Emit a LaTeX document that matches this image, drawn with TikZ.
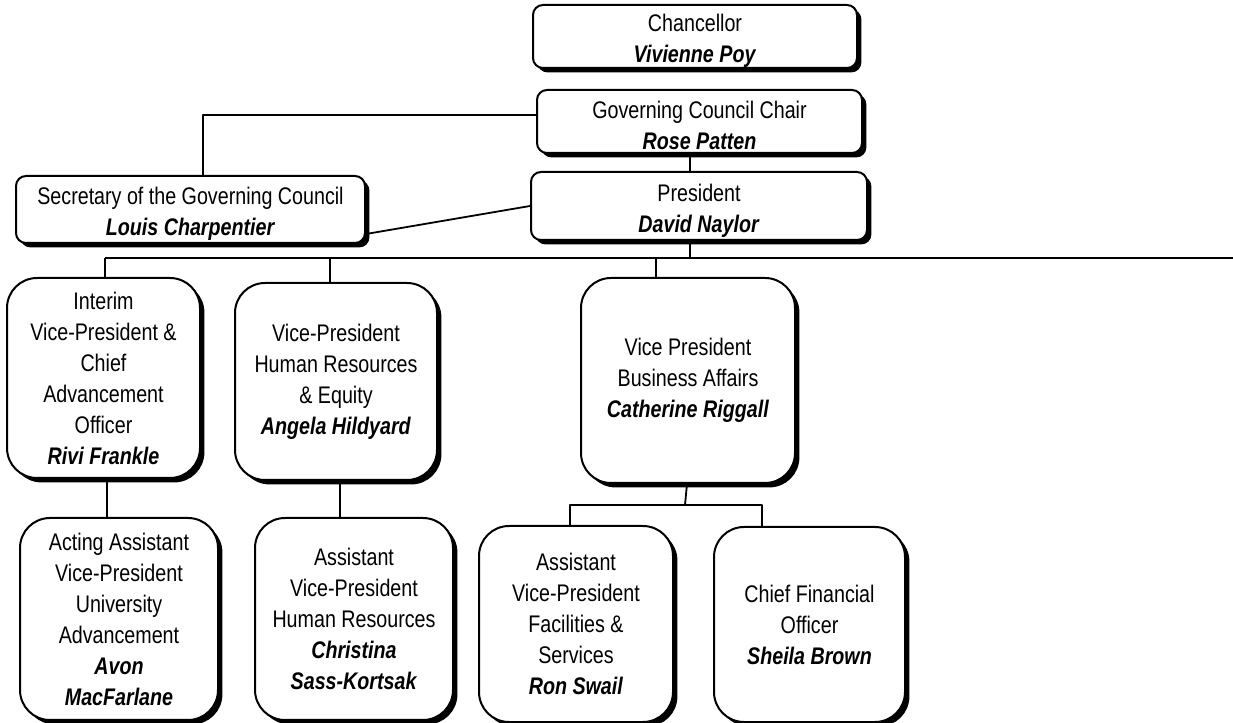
\documentclass[tikz,border=0pt]{standalone}
\usepackage{fontspec}
\setmainfont[FakeStretch=0.82]{Liberation Sans}
\usetikzlibrary{shadows}

\newcommand{\holder}[1]{\textbf{\textit{#1}}}

\begin{document}
\begin{tikzpicture}[join=bevel, scale=0.5]
 \tikzstyle{card}=[draw=black,line width=1bp,fill=white,align=center,inner sep=1bp,
   font=\fontsize{12bp}{15.5bp}\selectfont,
   drop shadow={shadow xshift=2.2bp,shadow yshift=-2.2bp,opacity=1,fill=black}]
 \tikzstyle{post}=[card,rounded corners=5bp,text height=28.5bp,inner ysep=0bp]
 \tikzstyle{office}=[card,rounded corners=15bp]
 \tikzstyle{link}=[line width=0.9bp]
 \useasboundingbox (0bp,0bp) rectangle (1233bp,723bp);

 % governance row
 \node (Chan) at (695bp,686.5bp) [post,minimum width=162bp,minimum height=31.5bp] {Chancellor\\\holder{Vivienne Poy}};
 \node (Chair) at (699.5bp,601.5bp) [post,minimum width=162.5bp,minimum height=31.5bp] {Governing Council Chair\\\holder{Rose Patten}};
 \node (Pres) at (699bp,517bp) [post,minimum width=168bp,minimum height=34bp] {President\\\holder{David Naylor}};
 \node (Sec) at (190.5bp,513.5bp) [post,minimum width=174.5bp,minimum height=33.5bp] {Secretary of the Governing Council\\\holder{Louis Charpentier}};

 % vice-presidents
 \node (Adv) at (103.5bp,345bp) [office,minimum width=96.5bp,minimum height=100bp] {Interim\\Vice-President \&\\Chief\\Advancement\\Officer\\\holder{Rivi Frankle}};
 \node (HR) at (336bp,341.5bp) [office,minimum width=101bp,minimum height=98.5bp] {Vice-President\\Human Resources\\\& Equity\\\holder{Angela Hildyard}};
 \node (Bus) at (688bp,342.5bp) [office,minimum width=107bp,minimum height=102.5bp] {Vice President\\Business Affairs\\\holder{Catherine Riggall}};

 % assistants
 \node (AdvAsst) at (119bp,104bp) [office,minimum width=99bp,minimum height=101bp] {Acting Assistant\\Vice-President\\University\\Advancement\\\holder{Avon}\\\holder{MacFarlane}};
 \node (HRAsst) at (354bp,104bp) [office,minimum width=99bp,minimum height=101bp] {Assistant\\Vice-President\\Human Resources\\\holder{Christina}\\\holder{Sass-Kortsak}};
 \node (Fac) at (576bp,99bp) [office,minimum width=97bp,minimum height=98bp] {Assistant\\Vice-President\\Facilities \&\\Services\\\holder{Ron Swail}};
 \node (CFO) at (809.5bp,98.5bp) [office,minimum width=95.5bp,minimum height=97.5bp] {Chief Financial\\Officer\\\holder{Sheila Brown}};

 \coordinate (spine) at (690bp,465bp);
 \coordinate (busL) at (105bp,465bp);
 \coordinate (busR) at (1233bp,465bp);
 \coordinate (tapHR) at (330bp,465bp);
 \coordinate (tapBus) at (656bp,465bp);
 \coordinate (busFork) at (685bp,218bp);

 \draw [link] (Chair.south -| spine) -- (Pres.north -| spine);
 \draw [link] (Pres.south -| spine) -- (spine);
 \draw [link] (Chair.west |- 0,608bp) -| (Sec.north -| 203bp,0);
 \draw [link] (Sec.east |- 0,489bp) -- (Pres.west);
 \draw [link] (busL) -- (busR);
 \draw [link] (busL) -- (busL |- Adv.north);
 \draw [link] (tapHR) -- (tapHR |- HR.north);
 \draw [link] (tapBus) -- (tapBus |- Bus.north);
 \draw [link] (Adv.south -| 107bp,0) -- (AdvAsst.north -| 107bp,0);
 \draw [link] (HR.south -| 340bp,0) -- (HRAsst.north -| 340bp,0);
 \draw [link] (Bus.south -| 687bp,0) -- (busFork);
 \draw [link] (Fac.north -| 570bp,0) |- (busFork) -| (CFO.north -| 762bp,0);

\end{tikzpicture}
\end{document}
